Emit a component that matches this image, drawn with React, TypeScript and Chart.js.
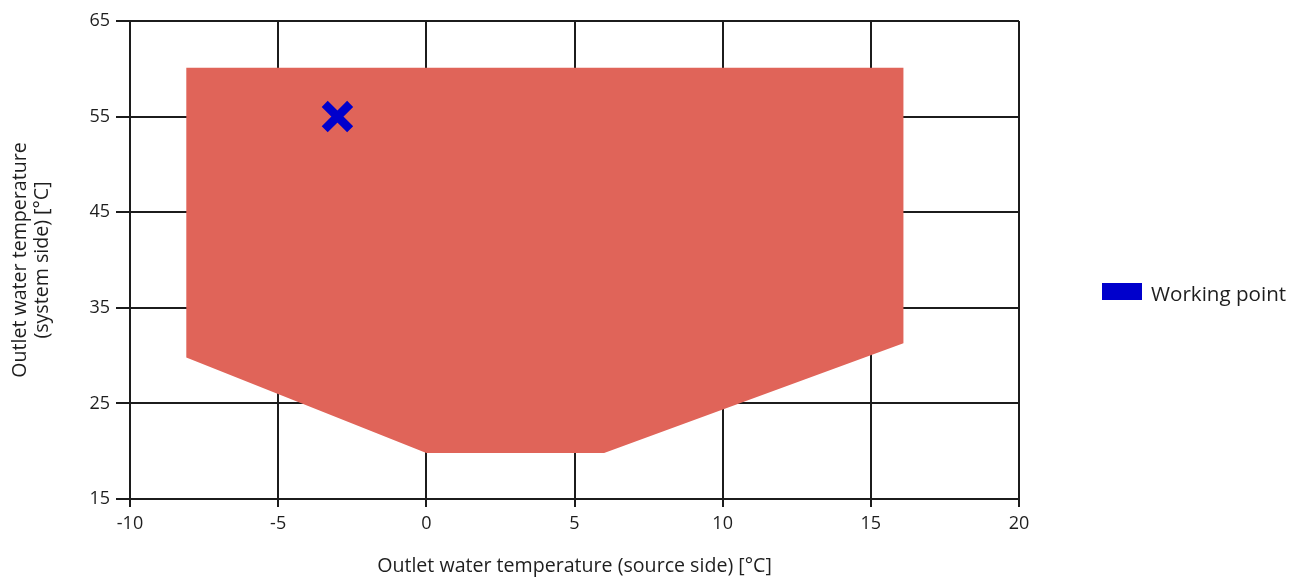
import React, { useEffect, useRef } from "react";
import { Chart, registerables } from "chart.js";

Chart.register(...registerables);

// Operating envelope polygon (closed)
const envelopeX = [-8.1, 16.1, 16.1, 6, 0, -8.1, -8.1];
const envelopeY = [60.1, 60.1, 31.3, 19.8, 19.8, 29.8, 60.1];

// Working point
const workingX = [-3];
const workingY = [55];

const xTicks = [-10, -5, 0, 5, 10, 15, 20];
const yTicks = [15, 25, 35, 45, 55, 65];

const xTitle = "Outlet water temperature (source side) [°C]";
const yTitle = ["Outlet water temperature", "(system side) [°C]"];
const legendLabel = "Working point";

const FONT = "'Open Sans', 'Noto Sans', sans-serif";
const TEXT = "#1e1e1e";
const GRID = "#1c1c1c";

export default function App() {
  const ref = useRef<HTMLCanvasElement | null>(null);

  useEffect(() => {
    if (!ref.current) return;
    const legendPlugin = {
      id: "customLegend",
      afterDraw(chart: any) {
        const ctx = chart.ctx;
        ctx.save();
        ctx.fillStyle = "#0000CC";
        ctx.fillRect(1102, 283, 40, 17);
        ctx.fillStyle = TEXT;
        ctx.font = `20.6px ${FONT}`;
        ctx.textBaseline = "middle";
        ctx.textAlign = "left";
        ctx.fillText(legendLabel, 1151, 295);
        ctx.restore();
      },
    };
    const chart = new Chart(ref.current, {
      type: "line",
      data: {
        datasets: [
          {
            label: legendLabel,
            order: 0,
            data: workingX.map((x, i) => ({ x, y: workingY[i] })),
            showLine: false,
            pointStyle: "crossRot",
            pointRadius: 18,
            pointBorderWidth: 8.5,
            pointBorderColor: "#0000CC",
            pointBackgroundColor: "#0000CC",
            borderColor: "#0000CC",
          },
          {
            label: "Envelope",
            order: 1,
            data: envelopeX.map((x, i) => ({ x, y: envelopeY[i] })),
            backgroundColor: "#E06459",
            borderColor: "#E06459",
            borderWidth: 0,
            pointRadius: 0,
            fill: "shape",
            tension: 0,
          },
        ],
      },
      options: {
        animation: false,
        responsive: false,
        maintainAspectRatio: false,
        layout: { autoPadding: false, padding: { left: 0, top: 21, right: 279, bottom: 0 } },
        plugins: {
          legend: { display: false },
          tooltip: { enabled: false },
        },
        scales: {
          x: {
            type: "linear",
            min: -10,
            max: 20,
            afterBuildTicks: (s: any) => {
              s.ticks = xTicks.map((v) => ({ value: v }));
            },
            afterFit: (s: any) => {
              s.height = 79;
            },
            ticks: {
              autoSkip: false,
              maxRotation: 0,
              padding: 6,
              color: TEXT,
              font: { family: FONT, size: 18 },
            },
            grid: { color: GRID, lineWidth: 2, tickLength: 8 },
            border: { color: GRID, width: 2 },
            title: {
              display: true,
              text: xTitle,
              color: TEXT,
              font: { family: FONT, size: 19.6, lineHeight: "22px" },
              padding: { top: 0, bottom: 1 },
            },
          },
          y: {
            type: "linear",
            min: 15,
            max: 65,
            afterBuildTicks: (s: any) => {
              s.ticks = yTicks.map((v) => ({ value: v }));
            },
            afterFit: (s: any) => {
              s.width = 130;
              s.paddingTop = 0;
              s.paddingBottom = 0;
            },
            ticks: {
              autoSkip: false,
              padding: 6,
              color: TEXT,
              font: { family: FONT, size: 18 },
            },
            grid: { color: GRID, lineWidth: 2, tickLength: 14 },
            border: { color: GRID, width: 2 },
            title: {
              display: true,
              text: yTitle,
              color: TEXT,
              font: { family: FONT, size: 19.6, lineHeight: "22px" },
              padding: { top: 9, bottom: 0 },
            },
          },
        },
      },
      plugins: [legendPlugin],
    } as any);
    return () => chart.destroy();
  }, []);

  return (
    <div style={{ position: "fixed", left: 0, top: 0, width: 1298, height: 578, background: "#fff" }}>
      <canvas ref={ref} width={1298} height={578} style={{ width: 1298, height: 578, display: "block" }} />
    </div>
  );
}
